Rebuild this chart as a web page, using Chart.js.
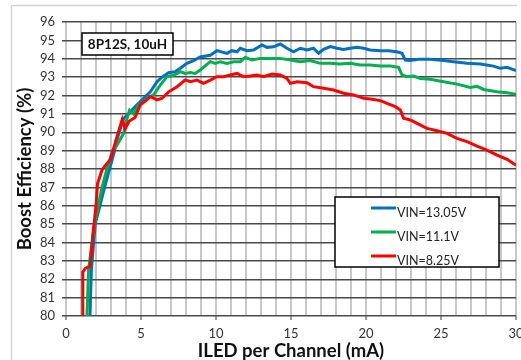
<!DOCTYPE html>
<html>
<head>
<meta charset="utf-8">
<script src="https://cdn.jsdelivr.net/npm/chart.js@4"></script>
<style>
  html, body { margin: 0; padding: 0; background: #fff; }
  #wrap { width: 521px; height: 360px; }
</style>
</head>
<body>
<div id="wrap"><canvas id="myChart" width="521" height="360"></canvas></div>
<script>
// datos: [corriente mA, eficiencia %]
const seriesLabels = ['VIN=13.05V', 'VIN=11.1V', 'VIN=8.25V'];
const seriesColors = ['#0070C0', '#00B050', '#FF0000'];

const vin1305 = [
  [1.6,80],[1.69,82.5],[1.95,85],[2.57,87],[2.9,88],[3.24,89],[3.4,89.6],[3.84,90.75],
  [4.17,91.0],[4.62,91.4],[5.17,91.85],[5.62,92.2],[6.07,92.75],[6.4,93.0],[6.84,93.24],
  [7.28,93.3],[7.62,93.48],[8.06,93.75],[8.5,93.9],[8.95,94.1],[9.62,94.19],[10.06,94.44],
  [10.73,94.29],[11.06,94.44],[11.4,94.38],[11.62,94.57],[12.06,94.44],[12.5,94.48],
  [13.06,94.75],[13.4,94.62],[13.84,94.65],[14.28,94.8],[14.73,94.57],[15.17,94.38],
  [15.62,94.57],[16.06,94.48],[16.5,94.57],[16.84,94.3],[17.17,94.51],[17.62,94.66],
  [18.06,94.57],[18.5,94.51],[18.95,94.57],[19.4,94.62],[19.84,94.57],[20.28,94.48],
  [20.95,94.44],[21.5,94.44],[22.06,94.38],[22.4,94.3],[22.62,93.93],[22.95,93.9],
  [23.5,93.97],[24.28,93.97],[25.17,93.9],[25.84,93.84],[26.73,93.75],[27.62,93.71],
  [28.5,93.6],[28.95,93.48],[29.4,93.53],[30,93.35]
];

const vin111 = [
  [1.4,80],[1.5,82.5],[1.9,85],[2.4,87],[2.73,88],[3.1,89],[3.4,89.3],[3.84,89.94],
  [4.07,90.76],[4.24,91.2],[4.5,91.0],[4.84,91.48],[5.17,91.66],[5.4,91.85],[5.84,92.03],
  [6.29,92.57],[6.73,93.03],[7.17,93.1],[7.62,93.3],[7.95,93.2],[8.28,93.25],[8.62,93.2],
  [8.95,93.39],[9.62,93.84],[9.95,93.75],[10.29,93.84],[10.73,93.75],[11.17,93.84],
  [11.62,93.84],[11.95,94.08],[12.4,93.93],[12.95,94.02],[13.62,94.02],[14.28,94.02],
  [14.95,93.93],[15.62,93.84],[16.28,93.9],[16.95,93.75],[17.62,93.75],[18.28,93.71],
  [18.95,93.75],[19.62,93.66],[20.28,93.66],[20.95,93.6],[21.62,93.6],[22.17,93.53],
  [22.4,93.12],[22.73,93.02],[23.17,93.06],[23.62,92.93],[24.28,92.88],[25.17,92.75],
  [26.06,92.62],[26.95,92.44],[27.4,92.5],[27.84,92.33],[28.73,92.2],[29.4,92.15],[30,92.06]
];

const vin825 = [
  [1.1,80],[1.12,82.4],[1.3,82.6],[1.6,82.7],[1.8,84.5],[2.0,86.0],[2.1,87.2],[2.4,87.95],
  [2.73,88.3],[2.95,88.5],[3.13,89.0],[3.4,89.76],[3.6,90.3],[3.75,90.7],[3.95,90.2],
  [4.2,90.6],[4.6,90.8],[4.95,91.5],[5.29,91.7],[5.62,91.94],[6.07,91.76],[6.4,91.85],
  [6.84,92.2],[7.4,92.48],[7.95,92.85],[8.29,92.75],[8.73,92.84],[9.17,92.66],[9.62,92.84],
  [10.06,93.02],[10.5,93.02],[10.95,93.12],[11.4,93.2],[11.84,93.02],[12.28,93.06],
  [12.73,93.12],[13.17,93.02],[13.73,93.17],[14.28,93.12],[14.73,92.93],[14.95,92.66],
  [15.4,92.75],[16.06,92.7],[16.5,92.48],[17.17,92.39],[17.84,92.3],[18.5,92.12],
  [19.17,92.03],[19.84,91.85],[20.4,91.8],[20.95,91.72],[21.4,91.57],[21.95,91.39],
  [22.29,91.21],[22.5,90.76],[22.95,90.67],[23.4,90.48],[24.06,90.21],[24.73,90.08],
  [25.4,89.94],[26.06,89.67],[26.73,89.49],[27.4,89.25],[28.06,89.03],[28.73,88.76],
  [29.4,88.53],[30,88.2]
];

const xTitle = 'ILED per Channel (mA)';
const yTitle = 'Boost Efficiency (%)';
const noteText = '8P12S, 10uH';

const FONT = 'Lato, "Open Sans", sans-serif';

function toPoints(arr) {
  return arr.map(p => ({ x: p[0], y: p[1] }));
}

// marco, nota y leyenda dibujados sobre el gráfico
const extras = {
  id: 'extras',
  beforeDraw(chart) {
    const c = chart.ctx;
    c.save();
    c.strokeStyle = '#d4d4d4';
    c.lineWidth = 1.5;
    c.beginPath();
    c.moveTo(11.5, 360);
    c.lineTo(11.5, 5.5);
    c.lineTo(517, 5.5);
    c.stroke();
    c.restore();
  },
  afterDatasetsDraw(chart) {
    const c = chart.ctx;
    c.save();
    // caja de nota
    c.fillStyle = '#fff';
    c.fillRect(82, 33, 91, 22);
    c.strokeStyle = '#000';
    c.lineWidth = 1.5;
    c.strokeRect(82, 33, 91, 22);
    c.fillStyle = '#111';
    c.font = 'bold 13.5px ' + FONT;
    c.textAlign = 'center';
    c.textBaseline = 'middle';
    c.fillText(noteText, 127.5, 44.5);

    // leyenda
    c.fillStyle = '#fff';
    c.fillRect(335, 197, 164, 70);
    c.strokeRect(335, 197, 164, 70);
    c.font = '12.5px ' + FONT;
    c.textAlign = 'left';
    chart.data.datasets.forEach((ds, i) => {
      const y = 208 + i * 24;
      c.strokeStyle = ds.borderColor;
      c.lineWidth = 3;
      c.beginPath();
      c.moveTo(371, y);
      c.lineTo(396, y);
      c.stroke();
      c.fillStyle = '#222';
      c.fillText(ds.label, 397, y + 5);
    });
    c.restore();
  }
};

const ctx = document.getElementById('myChart');
new Chart(ctx, {
  type: 'line',
  data: {
    datasets: [
      { label: seriesLabels[0], data: toPoints(vin1305), borderColor: seriesColors[0], order: 3 },
      { label: seriesLabels[1], data: toPoints(vin111), borderColor: seriesColors[1], order: 2 },
      { label: seriesLabels[2], data: toPoints(vin825), borderColor: seriesColors[2], order: 1 }
    ]
  },
  options: {
    responsive: false,
    animation: false,
    events: [],
    layout: { autoPadding: false, padding: { left: 0, top: 22, right: 5, bottom: 0 } },
    elements: {
      line: { borderWidth: 3, tension: 0, fill: false },
      point: { radius: 0 }
    },
    plugins: { legend: { display: false }, tooltip: { enabled: false } },
    scales: {
      x: {
        type: 'linear',
        min: 0, max: 30,
        afterFit: s => { s.height = 44; s.paddingLeft = 0; s.paddingRight = 0; },
        border: { display: false },
        grid: {
          color: '#c8c8c8', lineWidth: 2, tickLength: 4,
          tickColor: c => (c.tick && c.tick.value % 5 === 0) ? '#9a9a9a' : 'rgba(0,0,0,0)'
        },
        ticks: {
          stepSize: 1, padding: 6, color: '#333', maxRotation: 0, autoSkip: false,
          font: { family: FONT, size: 13 },
          callback: v => (v % 5 === 0 ? v : '')
        },
        title: {
          display: true, text: xTitle, color: '#111',
          font: { family: FONT, size: 18.5, weight: 'bold', lineHeight: 1 },
          padding: { top: 0, bottom: 0 }
        }
      },
      y: {
        min: 80, max: 96,
        afterFit: s => { s.width = 66; s.paddingTop = 0; s.paddingBottom = 0; },
        border: { display: false },
        grid: { color: '#4a4a4a', lineWidth: 1.5, tickLength: 4, tickColor: '#4a4a4a' },
        ticks: {
          stepSize: 1, padding: 7, color: '#333', autoSkip: false,
          font: { family: FONT, size: 13 }
        },
        title: {
          display: true, text: yTitle, color: '#111',
          font: { family: FONT, size: 18.5, weight: 'bold', lineHeight: 1 },
          padding: { top: 16, bottom: 0 }
        }
      }
    }
  },
  plugins: [extras]
});
</script>
</body>
</html>
